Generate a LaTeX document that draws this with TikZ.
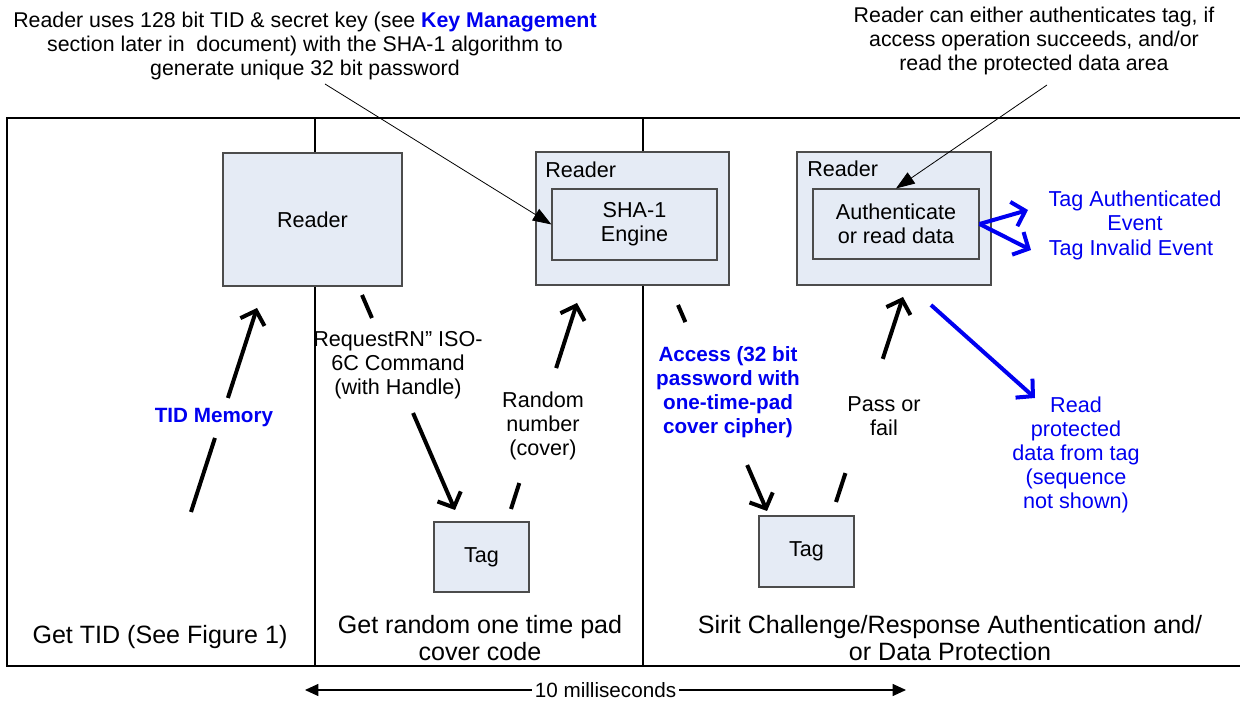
\documentclass[tikz,border=0pt]{standalone}
\usepackage{fontspec}
\setmainfont{Liberation Sans}
\usetikzlibrary{arrows.meta,calc}
\definecolor{boxfill}{HTML}{E5EBF5}
\definecolor{lblue}{HTML}{0000F0}
\tikzset{
  box/.style={draw=black!70, fill=boxfill, line width=0.8pt, inner sep=0pt},
  frame/.style={line width=2.2pt, black},
  flow/.style={line width=3pt, black},
  barb/.style={-{Straight Barb[length=9pt,width=19pt]}},
  bflow/.style={line width=3pt, lblue, -{Straight Barb[length=9pt,width=19pt]}},
  thinarr/.style={line width=0.6pt, black, -{Triangle[length=14pt,width=10pt]}},
  lbl/.style={font=\fontsize{16.2}{18}\selectfont, align=center, inner sep=0pt},
  boldlbl/.style={font=\fontsize{15.5}{18}\selectfont\bfseries, text=lblue, align=center, inner sep=0pt},
  toplbl/.style={font=\fontsize{16}{18}\selectfont, align=center, inner sep=0pt},
  botlbl/.style={font=\fontsize{18.8}{20.25}\selectfont, align=center, inner sep=0pt},
}
\begin{document}
\begin{tikzpicture}[x=0.75pt,y=-0.75pt]
\useasboundingbox (0,0) rectangle (1240,705);
% frame
\draw[frame] (1250,118) -- (7,118) -- (7,666) -- (1250,666);
\draw[frame] (315,118) -- (315,666);
\draw[frame] (643,118) -- (643,666);
% boxes
\node[box, minimum width=134.25pt, minimum height=99.75pt, lbl] (r1) at (312.5,219.5) {Reader};
\node[box, minimum width=144.75pt, minimum height=99.75pt] (r2) at (632.5,218.5) {};
\node[lbl, anchor=west] (r2l) at (545,170) {Reader};
\node[box, minimum width=123.75pt, minimum height=53.25pt, lbl] (sha) at (634.5,224.5) {SHA-1\\Engine};
\node[box, minimum width=145.5pt, minimum height=99.75pt] (r3) at (894,218.5) {};
\node[lbl, anchor=west] (r3l) at (807,169) {Reader};
\node[box, minimum width=124.5pt, minimum height=52.5pt, lbl] (auth) at (896,224) {Authenticate\\or read data};
\node[box, minimum width=71.25pt, minimum height=52.5pt, lbl] (tag1) at (481.5,557) {Tag};
\node[box, minimum width=71.25pt, minimum height=53.25pt, lbl] (tag2) at (806.5,551.5) {Tag};
% TID arrow
\coordinate (tA) at (191,512); \coordinate (tB) at (257,308);
\draw[flow] (tA) -- ($(tA)!0.363!(tB)$);
\draw[flow,barb] ($(tA)!0.559!(tB)$) -- (tB);
\node[boldlbl] (tidl) at (214,418) {TID Memory};
% Request arrow
\coordinate (qA) at (362,295); \coordinate (qB) at (455,510);
\draw[flow] (qA) -- ($(qA)!0.107!(qB)$);
\draw[flow,barb] ($(qA)!0.549!(qB)$) -- (qB);
\node[lbl] (reql) at (398,365) {RequestRN'' ISO-\\6C Command\\(with Handle)};
% Random arrow
\coordinate (nA) at (511,509); \coordinate (nB) at (577,303);
\draw[flow] (nA) -- ($(nA)!0.126!(nB)$);
\draw[flow,barb] ($(nA)!0.684!(nB)$) -- (nB);
\node[lbl] (randl) at (543,426) {Random\\number\\(cover)};
% Access arrow
\coordinate (aA) at (678,305); \coordinate (aB) at (767,511);
\draw[flow] (aA) -- ($(aA)!0.083!(aB)$);
\draw[flow,barb] ($(aA)!0.777!(aB)$) -- (aB);
\node[boldlbl] (accl) at (728,392) {Access (32 bit\\password with\\one-time-pad\\cover cipher)};
% Pass arrow
\coordinate (pA) at (836,502); \coordinate (pB) at (903,297);
\draw[flow] (pA) -- ($(pA)!0.141!(pB)$);
\draw[flow,barb] ($(pA)!0.698!(pB)$) -- (pB);
\node[lbl] (passl) at (884,416) {Pass or\\fail};
% blue arrows
\coordinate (rdA) at (931,305); \coordinate (rdB) at (1035,398);
\draw[bflow] (rdA) -- (rdB);
\node[lbl, text=lblue] (readl) at (1076,455) {Read\\protected\\data from tag\\(sequence\\not shown)};
\coordinate (evA) at (1028,210); \coordinate (evB) at (1031,250);
\draw[bflow] (auth.east) -- (evA);
\draw[bflow] (auth.east) -- (evB);
\node[lbl, text=lblue] (ev1) at (1135,211) {Tag Authenticated\\Event};
\node[lbl, text=lblue] (ev2) at (1131,250) {Tag Invalid Event};
% top annotations
\node[toplbl] (note1) at (305,46) {Reader uses 128 bit TID \& secret key (see {\color{lblue}\bfseries Key Management}\\section later in\ \ document) with the SHA-1 algorithm to\\generate unique 32 bit password};
\coordinate (n1) at (325,84);
\draw[thinarr] (n1) -- (sha.west);
\node[toplbl] (note2) at (1034,41) {Reader can either authenticates tag, if\\access operation succeeds, and/or\\read the protected data area};
\coordinate (n2) at (1047,85);
\draw[thinarr] (n2) -- (auth.north);
% bottom labels
\node[botlbl] (b1) at (160,637) {Get TID (See Figure 1)};
\node[botlbl] (b2) at (480,638) {Get random one time pad\\cover code};
\node[botlbl] (b3) at (950,638) {Sirit Challenge/Response Authentication and/\\or Data Protection};
% time arrow
\coordinate (m1) at (305,690); \coordinate (m2) at (906,690);
\draw[line width=0.8pt, {Triangle[length=10pt,width=9pt]}-{Triangle[length=10pt,width=9pt]}] (m1) -- (m2)
  node[midway, fill=white, inner xsep=2pt, inner ysep=0pt, font=\fontsize{15.5}{16}\selectfont] (ms) {10 milliseconds};
\end{tikzpicture}
\end{document}
